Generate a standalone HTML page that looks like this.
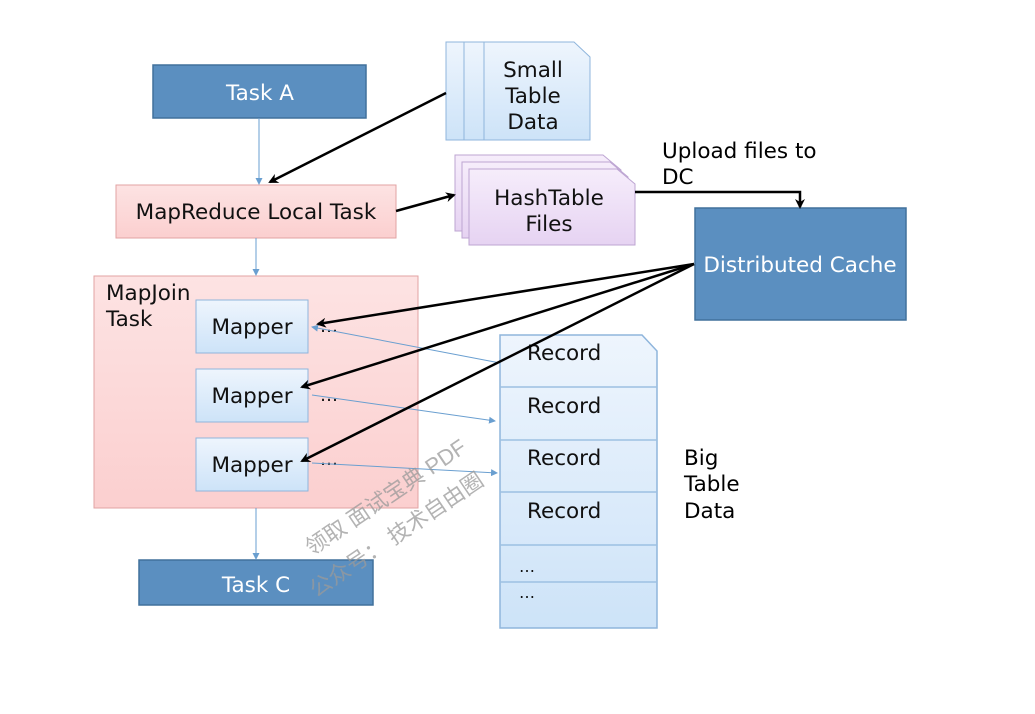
<!DOCTYPE html>
<html><head><meta charset="utf-8"><style>
body{margin:0;background:#fff}
svg{display:block;font-family:"DejaVu Sans","Liberation Sans",sans-serif}
</style></head><body>
<svg width="1035" height="714" viewBox="0 0 1035 714" xmlns="http://www.w3.org/2000/svg">
<defs>
<linearGradient id="blue" x1="0" y1="0" x2="0" y2="1"><stop offset="0" stop-color="#eef5fd"/><stop offset="1" stop-color="#cde3f8"/></linearGradient>
<linearGradient id="pink" x1="0" y1="0" x2="0" y2="1"><stop offset="0" stop-color="#fde3e3"/><stop offset="1" stop-color="#fbcfcf"/></linearGradient>
<linearGradient id="purp" x1="0" y1="0" x2="0" y2="1"><stop offset="0" stop-color="#f6edfb"/><stop offset="1" stop-color="#e6d3f2"/></linearGradient>
<marker id="ab" markerWidth="10" markerHeight="10" refX="8" refY="5" orient="auto" markerUnits="userSpaceOnUse"><path d="M0,0 L10,5 L0,10 L3,5 Z" fill="#000"/></marker>
<marker id="al" markerWidth="7" markerHeight="7" refX="6" refY="3.5" orient="auto" markerUnits="userSpaceOnUse"><path d="M0,0 L7,3.5 L0,7 Z" fill="#6a9fd0"/></marker>
</defs>

<rect x="153" y="65" width="213" height="53" fill="#5b8fc0" stroke="#41719c" stroke-width="1.5"/>
<text x="260" y="100" font-size="21.5" fill="#fff" text-anchor="middle">Task A</text>

<path d="M446,42 H550 L566,56 V140 H446 Z" fill="url(#blue)" stroke="#8fb5dc"/>
<path d="M464,42 H568 L584,56 V140 H464 Z" fill="url(#blue)" stroke="#8fb5dc"/>
<path d="M484,42 H574 L590,57 V140 H484 Z" fill="url(#blue)" stroke="#8fb5dc"/>
<text font-size="21.5" fill="#111" text-anchor="middle"><tspan x="533" y="77">Small</tspan><tspan x="533" y="103">Table</tspan><tspan x="533" y="129">Data</tspan></text>

<rect x="116" y="185" width="280" height="53" fill="url(#pink)" stroke="#e2a3a3"/>
<text x="256" y="219" font-size="21.5" fill="#111" text-anchor="middle">MapReduce Local Task</text>

<path d="M455,155 H603 L621,170 V231 H455 Z" fill="url(#purp)" stroke="#bda5d2"/>
<path d="M462,162 H610 L628,177 V238 H462 Z" fill="url(#purp)" stroke="#bda5d2"/>
<path d="M469,169 H617 L635,184 V245 H469 Z" fill="url(#purp)" stroke="#bda5d2"/>
<text font-size="21.5" fill="#111" text-anchor="middle"><tspan x="549" y="205">HashTable</tspan><tspan x="549" y="231">Files</tspan></text>

<text font-size="21.5" fill="#000"><tspan x="662" y="158">Upload files to</tspan><tspan x="662" y="184">DC</tspan></text>

<rect x="695" y="208" width="211" height="112" fill="#5b8fc0" stroke="#41719c" stroke-width="1.5"/>
<text x="800" y="272" font-size="21.5" fill="#fff" text-anchor="middle">Distributed Cache</text>

<rect x="94" y="276" width="324" height="232" fill="url(#pink)" stroke="#e2a3a3"/>
<text font-size="21.5" fill="#111"><tspan x="106" y="300">MapJoin</tspan><tspan x="106" y="326">Task</tspan></text>

<g font-size="21.5" fill="#111" text-anchor="middle">
<rect x="196" y="300" width="112" height="53" fill="url(#blue)" stroke="#8fb5dc"/>
<text x="252" y="334">Mapper</text>
<rect x="196" y="369" width="112" height="53" fill="url(#blue)" stroke="#8fb5dc"/>
<text x="252" y="403">Mapper</text>
<rect x="196" y="438" width="112" height="53" fill="url(#blue)" stroke="#8fb5dc"/>
<text x="252" y="472">Mapper</text>
</g>
<g font-size="18" fill="#111"><text x="320" y="332">…</text><text x="320" y="401">…</text><text x="320" y="465">…</text></g>

<path d="M500,335 H642 L657,351 V628 H500 Z" fill="url(#blue)" stroke="#8fb5dc" stroke-width="1.5"/>
<g stroke="#9cc0e2" stroke-width="1.5"><line x1="500" y1="387" x2="657" y2="387"/><line x1="500" y1="440" x2="657" y2="440"/><line x1="500" y1="492" x2="657" y2="492"/><line x1="500" y1="545" x2="657" y2="545"/><line x1="500" y1="582" x2="657" y2="582"/></g>
<g font-size="21.5" fill="#111"><text x="527" y="360">Record</text><text x="527" y="413">Record</text><text x="527" y="465">Record</text><text x="527" y="518">Record</text></g>
<g font-size="16" fill="#111"><text x="519" y="572">…</text><text x="519" y="598">…</text></g>
<text font-size="21.5" fill="#000"><tspan x="684" y="465">Big</tspan><tspan x="684" y="491">Table</tspan><tspan x="684" y="518">Data</tspan></text>

<rect x="139" y="560" width="234" height="45" fill="#5b8fc0" stroke="#41719c" stroke-width="1.5"/>
<text x="256" y="592" font-size="21.5" fill="#fff" text-anchor="middle">Task C</text>

<g stroke="#6a9fd0" stroke-width="1" fill="none">
<line x1="259" y1="118" x2="259" y2="184" marker-end="url(#al)"/>
<line x1="256" y1="238" x2="256" y2="275" marker-end="url(#al)"/>
<line x1="256" y1="508" x2="256" y2="559" marker-end="url(#al)"/>
<line x1="500" y1="363" x2="312" y2="327" marker-end="url(#al)"/>
<line x1="312" y1="395" x2="495" y2="421" marker-end="url(#al)"/>
<line x1="312" y1="463" x2="497" y2="473" marker-end="url(#al)"/>
</g>

<g stroke="#000" stroke-width="2.5" fill="none">
<line x1="446" y1="93" x2="270" y2="182" marker-end="url(#ab)"/>
<line x1="396" y1="211" x2="454" y2="195" marker-end="url(#ab)"/>
<polyline points="635,192 800,192 800,207" marker-end="url(#ab)"/>
<line x1="694" y1="264" x2="318" y2="324" marker-end="url(#ab)"/>
<line x1="694" y1="264" x2="302" y2="387" marker-end="url(#ab)"/>
<line x1="694" y1="264" x2="302" y2="461" marker-end="url(#ab)"/>
</g>

<g fill="#999" fill-opacity="0.75" font-family="'Liberation Sans','Noto Sans CJK SC',sans-serif" font-size="22">
<text transform="translate(312,556) rotate(-34)">领取 面试宝典 PDF</text>
<text transform="translate(316,598) rotate(-34)">公众号：  技术自由圈</text>
</g>
</svg>
</body></html>
